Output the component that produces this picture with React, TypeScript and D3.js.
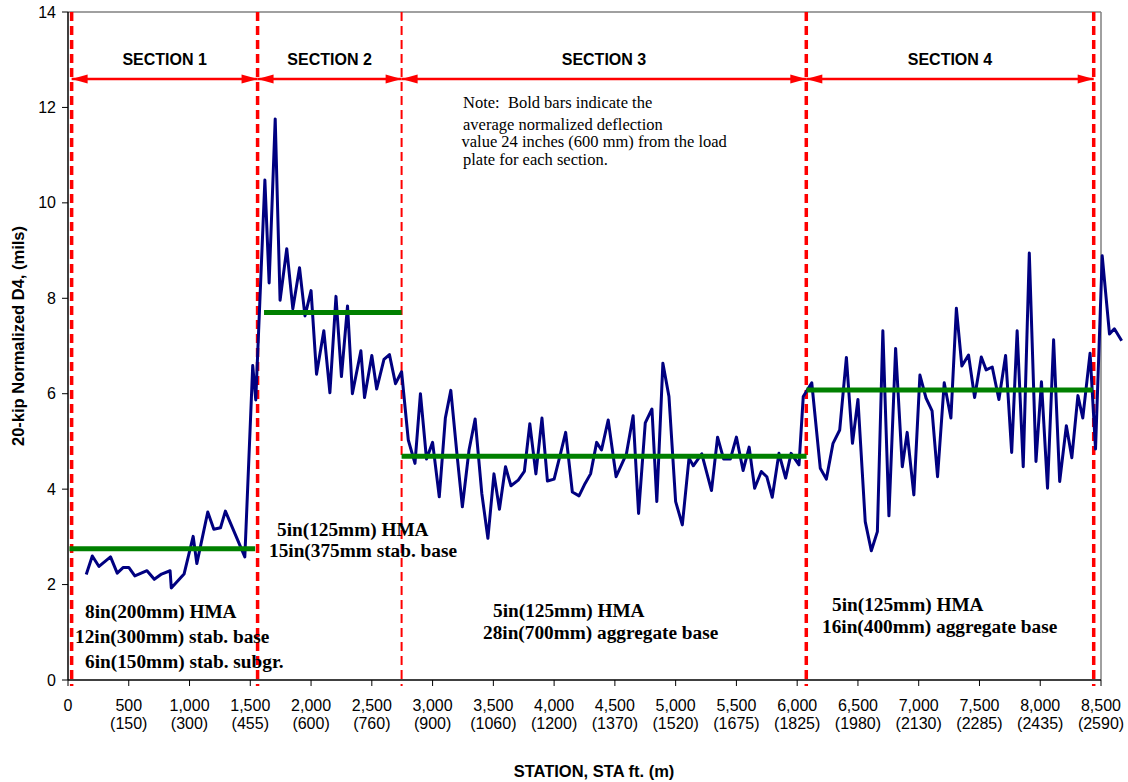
import * as d3 from 'd3'

// station (ft) and normalized D4 deflection (mils)
const stations = [
  150, 200, 255, 350, 405, 455, 500, 550, 650, 710, 770, 840, 850, 955, 1030, 1060, 1150, 1200, 1255, 1295,
  1455, 1520, 1545, 1620, 1655, 1705, 1745, 1800, 1850, 1905, 1950, 2000, 2045, 2105, 2155, 2205, 2250, 2300,
  2340, 2410, 2440, 2500, 2540, 2600, 2645, 2695, 2745,
  2800, 2855, 2900, 2950, 3000, 3055, 3105, 3150, 3200, 3245, 3300, 3350, 3405, 3455, 3505, 3550, 3600, 3645,
  3705, 3755, 3800, 3850, 3900, 3945, 4000, 4050, 4095, 4150, 4205, 4255, 4300, 4350, 4390, 4445, 4510, 4595,
  4650, 4695, 4750, 4805, 4845, 4895, 4945, 5000, 5055, 5110, 5145, 5215, 5295, 5345, 5395, 5450, 5500, 5555,
  5605, 5650, 5705, 5750, 5795, 5850, 5905, 5950, 6015, 6050, 6120,
  6190, 6240, 6295, 6350, 6405, 6455, 6500, 6560, 6610, 6660, 6705, 6755, 6810, 6865, 6905, 6960, 7010, 7060,
  7110, 7155, 7210, 7265, 7310, 7355, 7410, 7460, 7515, 7555, 7605, 7660, 7715, 7765, 7810, 7860, 7910, 7965,
  8010, 8060, 8110, 8160, 8215, 8260, 8310, 8350, 8410, 8455, 8510, 8570, 8610, 8670,
]
const d4 = [
  2.21, 2.6, 2.38, 2.58, 2.24, 2.36, 2.36, 2.18, 2.29, 2.11, 2.22, 2.29, 1.93, 2.22, 3.01, 2.44, 3.52, 3.16, 3.19, 3.54,
  2.58, 6.59, 5.87, 10.48, 8.32, 11.76, 7.96, 9.04, 7.78, 8.64, 7.63, 8.16, 6.41, 7.32, 6.02, 8.04, 6.36, 7.84,
  6.0, 6.9, 5.92, 6.8, 6.1, 6.72, 6.82, 6.21, 6.46,
  5.03, 4.54, 6.0, 4.63, 4.98, 3.84, 5.49, 6.07, 4.75, 3.63, 4.82, 5.47, 3.91, 2.97, 4.32, 3.58, 4.47, 4.07,
  4.19, 4.37, 5.37, 4.32, 5.49, 4.17, 4.21, 4.72, 5.19, 3.94, 3.86, 4.12, 4.32, 4.98, 4.82, 5.45, 4.26, 4.74,
  5.54, 3.49, 5.39, 5.68, 3.74, 6.64, 5.94, 3.74, 3.25, 4.65, 4.49, 4.74, 3.97, 5.09, 4.63, 4.63, 5.09, 4.39,
  4.88, 4.02, 4.37, 4.26, 3.83, 4.75, 4.23, 4.75, 4.51, 5.94, 6.23,
  4.44, 4.21, 4.96, 5.24, 6.76, 4.96, 5.88, 3.32, 2.71, 3.11, 7.32, 3.44, 6.95, 4.47, 5.19, 3.88, 6.39, 5.91,
  5.64, 4.26, 6.23, 5.49, 7.79, 6.58, 6.81, 5.92, 6.77, 6.5, 6.56, 5.88, 6.8, 4.77, 7.32, 4.47, 8.95, 4.58,
  6.25, 4.02, 7.13, 4.16, 5.33, 4.66, 5.96, 5.49, 6.85, 4.84, 8.89, 7.25, 7.36, 7.11,
]

// section boundaries (ft) and average bars
const sectionBounds = [30, 1560, 2745, 6075, 8440]
const boundThick = [true, true, false, true, true]
const sectionNames = ['SECTION 1', 'SECTION 2', 'SECTION 3', 'SECTION 4']
const avgStart = [12, 1613, 2745, 6077]
const avgEnd = [1540, 2745, 6077, 8431]
const avgValue = [2.75, 7.7, 4.69, 6.08]

const xTicks = d3.range(0, 8501, 500)
const xTicksMetric = ['', '(150)', '(300)', '(455)', '(600)', '(760)', '(900)', '(1060)', '(1200)', '(1370)',
  '(1520)', '(1675)', '(1825)', '(1980)', '(2130)', '(2285)', '(2435)', '(2590)']
const yTicks = [0, 2, 4, 6, 8, 10, 12, 14]

const noteLines = [
  'Note:\u00a0 Bold bars indicate the',
  'average normalized deflection',
  'value 24 inches (600 mm) from the load',
  'plate for each section.',
]

const W = 1128
const H = 782
const sans = '"Liberation Sans", Arial, sans-serif'
const serif = '"Liberation Serif", "Times New Roman", serif'

export default function App() {
  const x = d3.scaleLinear().domain([0, 8500]).range([68, 1101])
  const y = d3.scaleLinear().domain([0, 14]).range([680, 12])
  const fmt = d3.format(',')

  const line = d3.line<number>()
    .x((_, i) => x(stations[i]))
    .y(d => y(d))

  const arrowY = 79

  return (
    <svg width={W} height={H} style={{ position: 'absolute', left: 0, top: 0, background: '#fff' }}>
      {/* plot frame */}
      <line x1={x(0)} x2={x(8500)} y1={y(14)} y2={y(14)} stroke="#808080" strokeWidth={1.5} />
      <line x1={x(8500)} x2={x(8500)} y1={y(14)} y2={y(0)} stroke="#808080" strokeWidth={1.5} />

      {/* section boundaries */}
      {sectionBounds.map((b, i) => (
        <line key={'b' + i} x1={x(b)} x2={x(b)} y1={y(14)} y2={686}
          stroke="#ff0000" strokeWidth={boundThick[i] ? 3.5 : 2} strokeDasharray="9,5" />
      ))}

      {/* section arrows and titles */}
      {sectionNames.map((name, i) => {
        const a = x(sectionBounds[i])
        const b = x(sectionBounds[i + 1])
        return (
          <g key={name}>
            <line x1={a} x2={b} y1={arrowY} y2={arrowY} stroke="#ff0000" strokeWidth={2.5} />
            <path d={`M${a},${arrowY}L${a + 16},${arrowY - 4.5}L${a + 16},${arrowY + 4.5}Z`} fill="#ff0000" />
            <path d={`M${b},${arrowY}L${b - 16},${arrowY - 4.5}L${b - 16},${arrowY + 4.5}Z`} fill="#ff0000" />
            <text x={(a + b) / 2} y={65} textAnchor="middle" fontFamily={sans} fontWeight="bold" fontSize={16}>
              {name}
            </text>
          </g>
        )
      })}

      {/* axes */}
      <line x1={x(0)} x2={x(0)} y1={y(14)} y2={y(0)} stroke="#000" strokeWidth={1.5} />
      <line x1={x(0)} x2={x(8500)} y1={y(0)} y2={y(0)} stroke="#000" strokeWidth={1.5} />
      {yTicks.map(t => (
        <g key={'y' + t}>
          <line x1={x(0) - 6} x2={x(0)} y1={y(t)} y2={y(t)} stroke="#000" strokeWidth={1} />
          <text x={56} y={y(t)} dy="0.35em" textAnchor="end" fontFamily={sans} fontSize={16} fill="#000">{t}</text>
        </g>
      ))}
      {xTicks.map((t, i) => (
        <g key={'x' + t}>
          <line x1={x(t)} x2={x(t)} y1={y(0)} y2={y(0) + 6} stroke="#000" strokeWidth={1} />
          <text x={x(t)} y={711} textAnchor="middle" fontFamily={sans} fontSize={16}>{fmt(t)}</text>
          <text x={x(t)} y={729} textAnchor="middle" fontFamily={sans} fontSize={16}>{xTicksMetric[i]}</text>
        </g>
      ))}
      <text x={594} y={777} textAnchor="middle" fontFamily={sans} fontWeight="bold" fontSize={16.5}>
        STATION, STA ft. (m)
      </text>
      <text transform="translate(18.5,336) rotate(-90)" dy="0.35em" textAnchor="middle"
        fontFamily={sans} fontWeight="bold" fontSize={16.5}>
        20-kip Normalized D4, (mils)
      </text>

      {/* deflection line */}
      <path d={line(d4) || ''} fill="none" stroke="#000080" strokeWidth={3} strokeLinejoin="round" />

      {/* section averages */}
      {avgValue.map((v, i) => (
        <line key={'a' + i} x1={x(avgStart[i])} x2={x(avgEnd[i])} y1={y(v)} y2={y(v)}
          stroke="#008000" strokeWidth={5} />
      ))}

      {/* note */}
      <g fontFamily={serif} fontSize={16.5} fill="#000">
        <text x={463} y={108}>{noteLines[0]}</text>
        <text x={463} y={130}>{noteLines[1]}</text>
        <text x={461.5} y={147}>{noteLines[2]}</text>
        <text x={463} y={165}>{noteLines[3]}</text>
      </g>

      {/* pavement structure labels */}
      <g fontFamily={serif} fontWeight="bold" fontSize={19.3} fill="#000">
        <text x={85} y={618}>8in(200mm) HMA</text>
        <text x={75} y={643}>12in(300mm) stab. base</text>
        <text x={85} y={668}>6in(150mm) stab. subgr.</text>
        <text x={277} y={536}>5in(125mm) HMA</text>
        <text x={269} y={557}>15in(375mm stab. base</text>
        <text x={493} y={617}>5in(125mm) HMA</text>
        <text x={483} y={639}>28in(700mm) aggregate base</text>
        <text x={832} y={611}>5in(125mm) HMA</text>
        <text x={822} y={633}>16in(400mm) aggregate base</text>
      </g>
    </svg>
  )
}
